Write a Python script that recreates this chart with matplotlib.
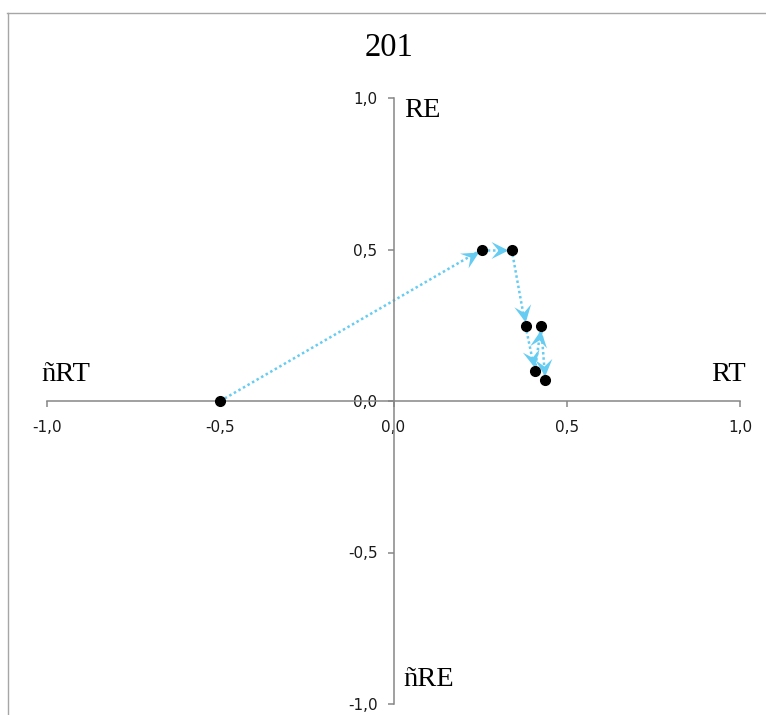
import math
import matplotlib
matplotlib.use("Agg")
import matplotlib.pyplot as plt
from matplotlib.markers import MarkerStyle
from matplotlib.path import Path
from matplotlib.transforms import Affine2D
from matplotlib.ticker import FuncFormatter, MultipleLocator
from matplotlib.lines import Line2D

# datos (RT, RE) en el orden de la trayectoria
rt = [-0.50, 0.255, 0.341, 0.381, 0.408, 0.426, 0.438]
re = [0.00, 0.50, 0.50, 0.248, 0.099, 0.248, 0.069]
titulo = "201"
etiquetas = {"RE": (0.03, 0.96, "left"), "ñRT": (-1.015, 0.086, "left"),
             "RT": (1.017, 0.086, "right"), "ñRE": (0.027, -0.92, "left")}

azul = "#66CCF2"
gris = "#868686"

fig = plt.figure(figsize=(7.66, 7.15), dpi=100)
ax = fig.add_axes([47 / 766, 11 / 715, 693 / 766, 606 / 715])
ax.set_xlim(-1, 1)
ax.set_ylim(-1, 1)

for s in ["top", "right"]:
    ax.spines[s].set_visible(False)
for s in ["left", "bottom"]:
    ax.spines[s].set_position("zero")
    ax.spines[s].set_color(gris)
    ax.spines[s].set_linewidth(1.1)
ax.patch.set_visible(False)

fmt = FuncFormatter(lambda v, p: f"{v:.1f}".replace(".", ","))
ax.xaxis.set_major_locator(MultipleLocator(0.5))
ax.yaxis.set_major_locator(MultipleLocator(0.5))
ax.xaxis.set_major_formatter(fmt)
ax.yaxis.set_major_formatter(fmt)
ax.tick_params(axis="x", direction="out", length=4.5, width=1.1, color=gris,
               pad=9, labelsize=11, labelcolor="#1a1a1a")
ax.tick_params(axis="y", direction="out", length=4.5, width=1.1, color=gris,
               pad=7, labelsize=11, labelcolor="#1a1a1a")
for lab in ax.get_xticklabels() + ax.get_yticklabels():
    lab.set_family("DejaVu Sans")

# flechas punteadas (cabeza en pixeles, punta un poco antes del punto)
cabeza = Path([(-4, 0), (-21, 8.5), (-14, 0), (-21, -8.5), (-4, 0)],
              [Path.MOVETO, Path.LINETO, Path.LINETO, Path.LINETO, Path.CLOSEPOLY])
ms_cabeza = 2 * 21 * 72 / 100
for i in range(len(rt) - 1):
    x0, y0, x1, y1 = rt[i], re[i], rt[i + 1], re[i + 1]
    ax.plot([x0, x1], [y0, y1], color=azul, lw=1.8, ls=(0, (1, 1.1)),
            zorder=2, clip_on=False)
    p0 = ax.transData.transform((x0, y0))
    p1 = ax.transData.transform((x1, y1))
    ang = math.degrees(math.atan2(p1[1] - p0[1], p1[0] - p0[0]))
    m = MarkerStyle(cabeza, transform=Affine2D().rotate_deg(ang))
    ax.plot([x1], [y1], marker=m, ms=ms_cabeza, color=azul, mew=0, ls="none",
            zorder=3)

ax.plot(rt, re, ls="none", marker="o", ms=7, color="black", zorder=4, clip_on=False)

for txt, (x, y, ha) in etiquetas.items():
    ax.text(x, y, txt, ha=ha, va="center", fontsize=20.5, family="Liberation Serif",
            clip_on=False)

fig.text(389.5 / 766, 1 - 48 / 715, titulo, ha="center", va="center",
         fontsize=23.5, family="Liberation Serif")

# marco gris del área del gráfico
fig.add_artist(Line2D([7.5 / 766, 7.5 / 766], [0, 1 - 13 / 715], color="#A6A6A6",
                      lw=1.0, transform=fig.transFigure))
fig.add_artist(Line2D([7 / 766, 1], [1 - 13 / 715, 1 - 13 / 715], color="#A6A6A6",
                      lw=1.0, transform=fig.transFigure))

fig.savefig("out.png", dpi=100)
